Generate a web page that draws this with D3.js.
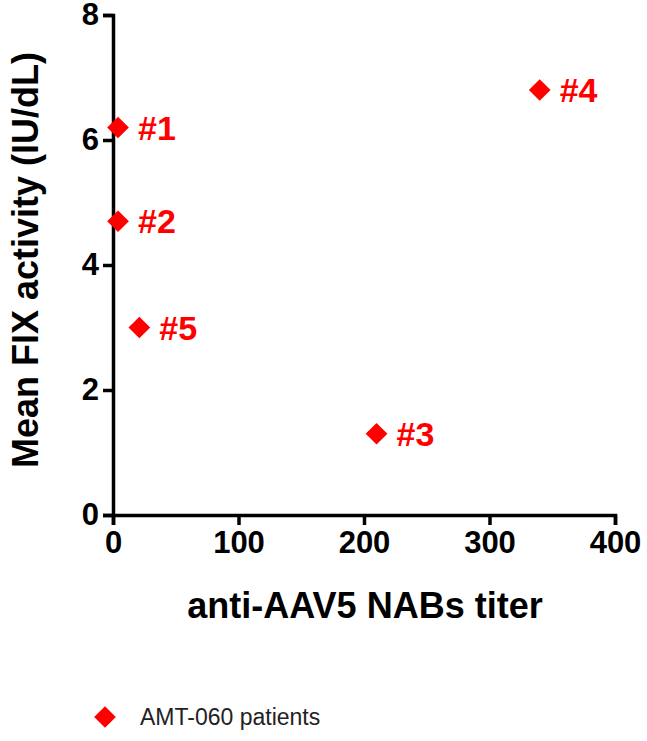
<!DOCTYPE html>
<html><head><meta charset="utf-8">
<script src="https://cdn.jsdelivr.net/npm/d3@7"></script>
<style>body{margin:0;background:#fff}text{font-family:"Liberation Sans",Arial,sans-serif}</style>
</head><body><svg id="c" width="647" height="741"></svg>
<script>
const patients = ["#1", "#2", "#3", "#4", "#5"];
const titers = [4, 4, 210, 340, 21];
const activity = [6.2, 4.7, 1.3, 6.8, 3.0];
const xTicks = [0, 100, 200, 300, 400];
const yTicks = [0, 2, 4, 6, 8];
const red = "#ff0000";

const svg = d3.select("#c");
const x = d3.scaleLinear().domain([0, 400]).range([113, 615]);
const y = d3.scaleLinear().domain([0, 8]).range([515, 15]);

const xa = svg.append("g").attr("transform", "translate(0,515)")
  .call(d3.axisBottom(x).tickValues(xTicks).tickSize(10).tickPadding(6));
const ya = svg.append("g").attr("transform", "translate(113,0)")
  .call(d3.axisLeft(y).tickValues(yTicks).tickSize(10).tickPadding(4));
[xa, ya].forEach(a => {
  a.selectAll("path,line").attr("stroke", "#000").attr("stroke-width", 3.5);
  a.selectAll("text").attr("font-size", 31).attr("font-weight", "bold").attr("fill", "#000");
});

svg.append("text").attr("x", 365).attr("y", 618).attr("text-anchor", "middle")
  .attr("font-size", 36).attr("font-weight", "bold").text("anti-AAV5 NABs titer");
svg.append("text").attr("transform", "translate(38,260) rotate(-90)").attr("text-anchor", "middle")
  .attr("font-size", 36).attr("font-weight", "bold").text("Mean FIX activity (IU/dL)");

const diamond = d3.symbol().type(d3.symbolDiamond2).size(300);
const pts = svg.append("g").selectAll("g").data(patients).join("g")
  .attr("transform", (d, i) => `translate(${x(titers[i])},${y(activity[i])})`);
pts.append("path").attr("d", diamond).attr("fill", red);
pts.append("text").attr("x", 20).attr("y", 12).attr("font-size", 34).attr("font-weight", "bold")
  .attr("fill", red).text(d => d);

svg.append("path").attr("d", diamond).attr("fill", red).attr("transform", "translate(105,717)");
svg.append("text").attr("x", 140).attr("y", 725).attr("font-size", 23).attr("fill", "#222").text("AMT-060 patients");
</script></body></html>
